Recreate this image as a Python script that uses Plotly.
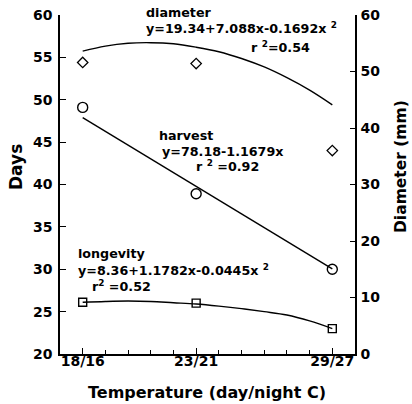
import plotly.graph_objects as go

# ---- data ----
temps = [18, 23, 29]
temp_labels = ['18/16', '23/21', '29/27']

harvest_days = [49.1, 38.9, 30.0]
longevity_days = [26.1, 26.0, 23.0]
diameter_mm = [51.6, 51.4, 36.0]

harvest_fit_t = [18, 29]
harvest_fit = [47.9, 30.05]

curve_t = [18, 19, 20, 21, 22, 23, 24, 25, 26, 27, 28, 29]
longevity_fit = [26.1, 26.2, 26.25, 26.2, 26.05, 25.9, 25.65, 25.35, 25.0, 24.6, 23.9, 23.0]
diameter_fit = [53.6, 54.5, 55.0, 55.1, 54.9, 54.3, 53.5, 52.3, 50.8, 48.9, 46.7, 44.1]

minor_t = list(range(17, 31))

W, H = 412, 404
L, R, T, B = 60, 57, 15, 50
PW, PH = W - L - R, H - T - B

def px(x):
    return (x - L) / PW

def py(y):
    return 1 - (y - T) / PH

FONT = 'DejaVu Sans'
blk = 'black'

fig = go.Figure()

# harvest
fig.add_trace(go.Scatter(x=harvest_fit_t, y=harvest_fit, mode='lines',
                         line=dict(color=blk, width=1.4), yaxis='y'))
fig.add_trace(go.Scatter(x=temps, y=harvest_days, mode='markers',
                         marker=dict(symbol='circle-open', size=10, color=blk,
                                     line=dict(width=1.4, color=blk)), yaxis='y'))
# longevity
fig.add_trace(go.Scatter(x=curve_t, y=longevity_fit, mode='lines',
                         line=dict(color=blk, width=1.4, shape='spline'), yaxis='y'))
fig.add_trace(go.Scatter(x=temps, y=longevity_days, mode='markers',
                         marker=dict(symbol='square-open', size=8, color=blk,
                                     line=dict(width=1.4, color=blk)), yaxis='y'))
# diameter (right axis)
fig.add_trace(go.Scatter(x=curve_t, y=diameter_fit, mode='lines',
                         line=dict(color=blk, width=1.4, shape='spline'), yaxis='y2'))
fig.add_trace(go.Scatter(x=temps, y=diameter_mm, mode='markers',
                         marker=dict(symbol='diamond-open', size=8, color=blk,
                                     line=dict(width=1.3, color=blk)), yaxis='y2'))

tfont = dict(family=FONT, size=12.7, color=blk, weight='bold')
texts = [
    ('diameter', 145, 12.5),
    ('y=19.34+7.088x-0.1692x <sup>2</sup>', 145, 28.5),
    ('r <sup>2</sup>=0.54', 250, 47.5),
    ('harvest', 158, 135),
    ('y=78.18-1.1679x', 160.5, 151),
    ('r <sup>2</sup> =0.92', 194.5, 166.5),
    ('longevity', 76.5, 254),
    ('y=8.36+1.1782x-0.0445x <sup>2</sup>', 77, 270),
    ('r<sup>2</sup> =0.52', 91, 286),
]
annotations = []
for t, x, y in texts:
    annotations.append(dict(text=t, x=px(x), y=py(y), xref='paper', yref='paper',
                            xanchor='left', yanchor='middle', showarrow=False,
                            borderpad=0, font=tfont))

annotations.append(dict(text='Days', x=px(16), y=py(167), xref='paper', yref='paper',
                        xanchor='center', yanchor='middle', showarrow=False, textangle=-90,
                        font=dict(family=FONT, size=17, color=blk, weight='bold')))
annotations.append(dict(text='Diameter (mm)', x=px(401), y=py(167), xref='paper', yref='paper',
                        xanchor='center', yanchor='middle', showarrow=False, textangle=-90,
                        font=dict(family=FONT, size=15.5, color=blk, weight='bold')))
annotations.append(dict(text='Temperature (day/night C)', x=px(207), y=py(392), xref='paper',
                        yref='paper', xanchor='center', yanchor='middle', showarrow=False,
                        font=dict(family=FONT, size=16, color=blk, weight='bold')))

tickfont = dict(family=FONT, size=14, color=blk, weight='bold')

fig.update_layout(
    template='none',
    width=W, height=H,
    margin=dict(l=L, r=R, t=T, b=B, pad=0, autoexpand=False),
    paper_bgcolor='white', plot_bgcolor='white',
    showlegend=False,
    annotations=annotations,
    xaxis=dict(range=[17, 30], tickmode='array', tickvals=temps, ticktext=temp_labels,
               ticks='inside', ticklen=6, tickwidth=1.2, tickcolor=blk, automargin=False,
               showline=True, linewidth=1.5, linecolor=blk, showgrid=False, zeroline=False,
               tickfont=tickfont, ticklabelstandoff=-7,
               minor=dict(tickmode='array', tickvals=minor_t, ticks='inside', ticklen=4,
                          tickwidth=1, tickcolor=blk, showgrid=False)),
    yaxis=dict(range=[20, 60], dtick=5, tick0=20, ticks='inside', ticklen=6, tickwidth=1.2,
               tickcolor=blk, showline=True, linewidth=1.5, linecolor=blk, automargin=False,
               showgrid=False, zeroline=False, tickfont=tickfont, ticklabelstandoff=3),
    yaxis2=dict(range=[0, 60], dtick=10, tick0=0, overlaying='y', side='right', anchor='x',
                ticks='inside', ticklen=5, tickwidth=1.2, tickcolor=blk, showline=True,
                linewidth=1.5, linecolor=blk, showgrid=False, zeroline=False, automargin=False,
                tickfont=tickfont, ticklabelstandoff=1),
)

fig.write_html('out.html', config={'displayModeBar': False},
               post_script="document.body.style.margin='0';document.body.style.padding='0';document.body.style.overflow='hidden';")
